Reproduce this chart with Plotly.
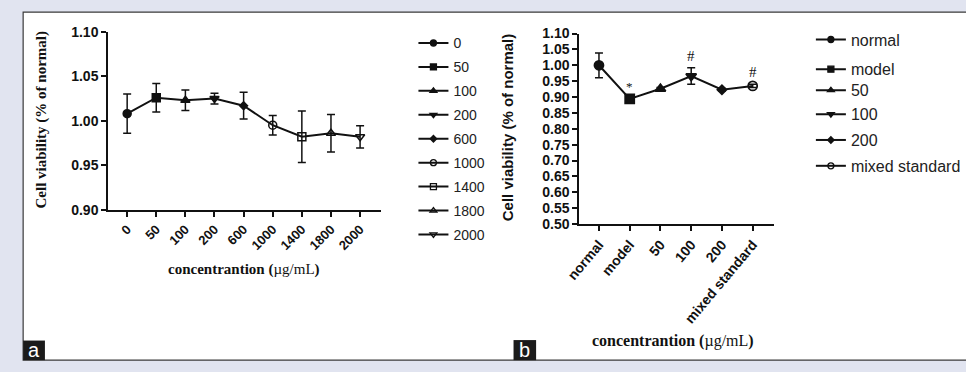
import plotly.graph_objects as go

W, H = 966, 372

# ---------------- data ----------------
conc_a = ["0", "50", "100", "200", "600", "1000", "1400", "1800", "2000"]
mean_a = [1.008, 1.026, 1.023, 1.025, 1.017, 0.995, 0.982, 0.986, 0.982]
err_a = [0.022, 0.016, 0.0115, 0.006, 0.015, 0.011, 0.029, 0.021, 0.0125]
sym_a = ["circle", "square", "triangle-up", "triangle-down", "diamond",
         "circle-open", "square-open", "triangle-up-open", "triangle-down-open"]

group_b = ["normal", "model", "50", "100", "200", "mixed standard"]
mean_b = [1.000, 0.894, 0.926, 0.966, 0.923, 0.935]
err_b = [0.039, 0.004, 0.004, 0.026, 0.004, 0.005]
sym_b = ["circle", "square", "triangle-up", "triangle-down", "diamond", "circle-open"]
sig_b = ["", "*", "", "#", "", "#"]

yticks_a = [0.90, 0.95, 1.00, 1.05, 1.10]
yticks_b = [0.50, 0.55, 0.60, 0.65, 0.70, 0.75, 0.80, 0.85, 0.90, 0.95, 1.00, 1.05, 1.10]


def px(x):
    return x / W


def py(y):
    return 1 - y / H


SANS = "Liberation Sans"
SERIF = "Liberation Serif"
BLACK = "#111111"

fig = go.Figure()

# ---------------- panel a ----------------
fig.add_trace(go.Scatter(x=conc_a, y=mean_a, mode="lines", line=dict(color=BLACK, width=2),
                         showlegend=False, hoverinfo="skip", xaxis="x", yaxis="y"))
for i, (c, m, e, s) in enumerate(zip(conc_a, mean_a, err_a, sym_a)):
    size = 6 if s == "diamond" else 8
    fig.add_trace(go.Scatter(
        x=[c], y=[m], mode="markers", name=c, showlegend=False,
        marker=dict(symbol=s, size=size, color=BLACK, line=dict(color=BLACK, width=1.5)),
        error_y=dict(type="data", array=[e], color=BLACK, thickness=1.5, width=4),
        xaxis="x", yaxis="y"))
    fig.add_trace(go.Scatter(
        x=[None], y=[None], mode="lines+markers", name=c,
        marker=dict(symbol=s, size=5 if s == "diamond" else 6, color=BLACK,
                    line=dict(color=BLACK, width=1.3)),
        line=dict(color=BLACK, width=2),
        xaxis="x", yaxis="y", legend="legend" if i == 0 else f"legend{i + 1}"))

# ---------------- panel b ----------------
fig.add_trace(go.Scatter(x=group_b, y=mean_b, mode="lines", line=dict(color=BLACK, width=2),
                         showlegend=False, hoverinfo="skip", xaxis="x2", yaxis="y2"))
for j, (g, m, e, s) in enumerate(zip(group_b, mean_b, err_b, sym_b)):
    size = 7 if s == "diamond" else 9
    fig.add_trace(go.Scatter(
        x=[g], y=[m], mode="markers", name=g, showlegend=False,
        marker=dict(symbol=s, size=size, color=BLACK, line=dict(color=BLACK, width=1.8)),
        error_y=dict(type="data", array=[e], color=BLACK, thickness=1.5, width=4),
        xaxis="x2", yaxis="y2"))
    fig.add_trace(go.Scatter(
        x=[None], y=[None], mode="lines+markers", name=g,
        marker=dict(symbol=s, size=5 if s == "diamond" else 6, color=BLACK,
                    line=dict(color=BLACK, width=1.3)),
        line=dict(color=BLACK, width=2),
        xaxis="x2", yaxis="y2", legend=f"legend{len(conc_a) + j + 1}"))

# ---------------- legends ----------------
legend_layout = {}
rows_a = [37, 62, 87, 112, 137, 162, 187, 212, 237]
for i, r in enumerate(rows_a):
    key = "legend" if i == 0 else f"legend{i + 1}"
    legend_layout[key] = dict(x=px(406), y=py(r), xanchor="left", yanchor="middle",
                              bgcolor="rgba(0,0,0,0)", borderwidth=0,
                              font=dict(family=SANS, size=14, color="#222222"))
rows_b = [33, 64, 86, 111, 138, 165]
for j, r in enumerate(rows_b):
    key = f"legend{len(conc_a) + j + 1}"
    legend_layout[key] = dict(x=px(811), y=py(r), xanchor="left", yanchor="middle",
                              bgcolor="rgba(0,0,0,0)", borderwidth=0,
                              font=dict(family=SANS, size=16, color="#222222"))

axis_common = dict(showline=True, linecolor=BLACK, linewidth=2, ticks="outside",
                   ticklen=5, tickwidth=2, tickcolor=BLACK, showgrid=False, zeroline=False,
                   mirror=False)

annotations = []
for k, (m, e, s) in enumerate(zip(mean_b, err_b, sig_b)):
    if s:
        annotations.append(dict(x=k, y=m + e, xref="x2", yref="y2", text=s, showarrow=False,
                                xanchor="center", yanchor="bottom", yshift=2,
                                font=dict(family=SERIF, size=15 if s == "#" else 13, color=BLACK)))


def label(x, y, text, font, angle=0):
    return dict(x=px(x), y=py(y), xref="paper", yref="paper", text=text, textangle=angle,
                xanchor="center", yanchor="middle", showarrow=False, font=font)


annotations += [
    label(27, 117, "<b>Cell viability (% of normal)</b>",
          dict(family=SERIF, size=15, color=BLACK), -90),
    label(233, 273, "<b>concentrantion</b> <b>(</b>µg/mL<b>)</b>",
          dict(family=SERIF, size=15, color=BLACK)),
    label(502, 125, "<b>Cell viability (% of normal)</b>",
          dict(family=SANS, size=15, color=BLACK), -90),
    label(670, 348, "<b>concentrantion</b> <b>(</b>µg/mL<b>)</b>",
          dict(family=SERIF, size=16, color=BLACK)),
    label(19.5, 357, "a", dict(family=SANS, size=20, color="white")),
    label(519.5, 357, "b", dict(family=SANS, size=20, color="white")),
]

shapes = [
    dict(type="rect", xref="paper", yref="paper", x0=px(8.3), x1=px(980), y0=py(368), y1=py(4.3),
         fillcolor="white", line=dict(color="#3a3a3a", width=1.2), layer="below"),
    dict(type="rect", xref="paper", yref="paper", x0=px(8.3), x1=px(30.5), y0=py(368), y1=py(347.5),
         fillcolor="#1b1b1b", line=dict(width=0), layer="below"),
    dict(type="rect", xref="paper", yref="paper", x0=px(508), x1=px(531), y0=py(368), y1=py(347),
         fillcolor="#1b1b1b", line=dict(width=0), layer="below"),
]

fig.update_layout(
    width=W, height=H, margin=dict(l=0, r=0, t=0, b=0),
    paper_bgcolor="#e1e4f0", plot_bgcolor="rgba(0,0,0,0)",
    showlegend=True,
    xaxis=dict(axis_common, domain=[px(95), px(373)], type="category",
               categoryorder="array", categoryarray=conc_a, range=[-0.65, 8.72],
               tickangle=-45, tickfont=dict(family=SANS, size=13, color=BLACK, weight="bold"),
               anchor="y"),
    yaxis=dict(axis_common, domain=[py(210.7), py(25)], range=[0.90, 1.10],
               tickvals=yticks_a, tickformat=".2f",
               tickfont=dict(family=SANS, size=14, color=BLACK, weight="bold"), anchor="x"),
    xaxis2=dict(axis_common, domain=[px(575), px(773)], type="category",
                categoryorder="array", categoryarray=group_b, range=[-0.64, 5.68],
                tickangle=-50, tickfont=dict(family=SANS, size=14, color=BLACK, weight="bold"),
                anchor="y2"),
    yaxis2=dict(axis_common, domain=[py(225.7), py(26.7)], range=[0.50, 1.10],
                tickvals=yticks_b, tickformat=".2f",
                tickfont=dict(family=SANS, size=14, color=BLACK, weight="bold"), anchor="x2"),
    annotations=annotations,
    shapes=shapes,
    **legend_layout,
)

fig.write_html("out.html")
